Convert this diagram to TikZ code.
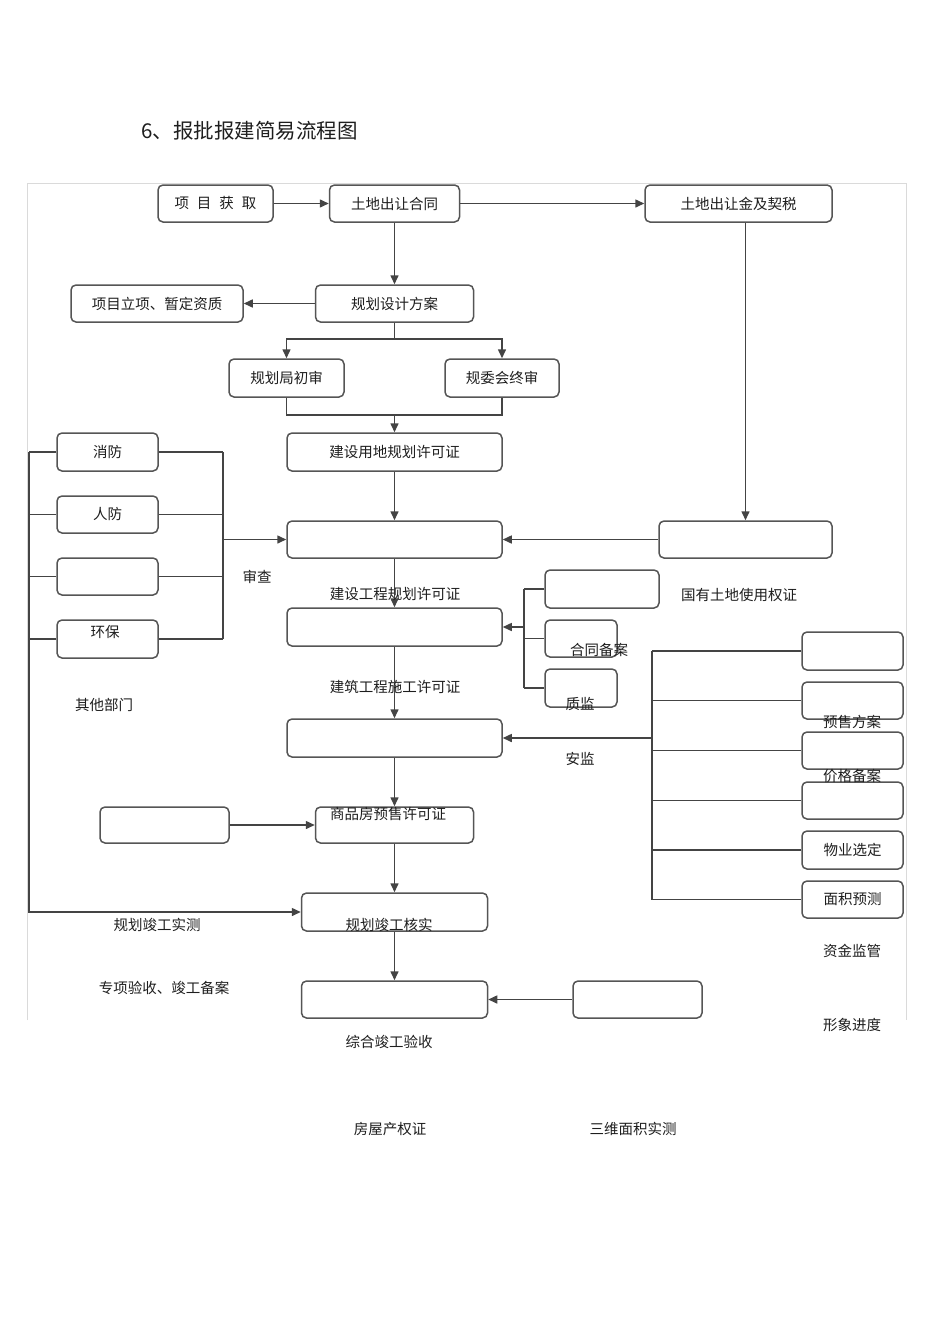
\documentclass[tikz,border=0pt]{standalone}
\usepackage{fontspec}
\setmainfont{Noto Sans CJK SC}
\usetikzlibrary{arrows.meta}
\definecolor{linegray}{HTML}{444444}
\definecolor{boxgray}{HTML}{555555}
\definecolor{framegray}{HTML}{DADADA}
\definecolor{textblack}{HTML}{1E1E1E}
\newcommand{\bodyfont}{\fontsize{14.5}{17}\selectfont}

\begin{document}
\begin{tikzpicture}[x=1pt,y=-1pt,
	box/.style={draw=boxgray, line width=1.5pt, rounded corners=5pt, fill=white,
		inner sep=0pt, font=\bodyfont, text=textblack},
	lbl/.style={font=\bodyfont, text=textblack, inner sep=0pt},
	wire/.style={draw=linegray, line width=1.5pt},
	arr/.style={wire, -{Triangle[length=9pt,width=8pt]}}]
	% Fixed white page, same size as the scanned sheet.
	\path[use as bounding box] (0,0) rectangle (950,1344);
	\fill[white] (0,0) rectangle (950,1344);

	% Page title and the light frame round the chart.
	\node[anchor=west, font=\fontsize{20.5}{24}\selectfont, text=textblack, inner sep=0pt] (title) at (141,131)
		{6、报批报建简易流程图};
	\draw[framegray, line width=0.8pt] (27,1020) -- (27,183) -- (906,183) -- (906,1020);

	% Top row and planning steps.
	\node[box, minimum width=115pt, minimum height=37pt] (xmhq) at (215.5,203.5)
		{项\hspace{8pt}目\hspace{8pt}获\hspace{8pt}取};
	\node[box, minimum width=130pt, minimum height=37pt] (tdht) at (394.5,203.5) {土地出让合同};
	\node[box, minimum width=187pt, minimum height=37pt] (tdjs) at (738.5,203.5) {土地出让金及契税};
	\node[box, minimum width=158pt, minimum height=37pt] (ghfa) at (394.5,303.5) {规划设计方案};
	\node[box, minimum width=172pt, minimum height=37pt] (xmlx) at (157,303.5) {项目立项、暂定资质};
	\node[box, minimum width=115pt, minimum height=38pt] (ghcs) at (286.5,378) {规划局初审};
	\node[box, minimum width=114pt, minimum height=38pt] (gwzs) at (502,378) {规委会终审};

	% Main column of permits (most labels sit off their boxes).
	\node[box, minimum width=215pt, minimum height=38pt] (jsyd) at (394.5,452) {建设用地规划许可证};
	\node[box, minimum width=215pt, minimum height=37pt] (gcgh) at (394.5,539.5) {};
	\node[box, minimum width=215pt, minimum height=38pt] (jzsg) at (394.5,627) {};
	\node[box, minimum width=215pt, minimum height=38pt] (ysxk) at (394.5,738) {};
	\node[box, minimum width=158pt, minimum height=36pt] (spf) at (394.5,825) {};
	\node[box, minimum width=129pt, minimum height=36pt] (ghsc) at (164.5,825) {};
	\node[box, minimum width=186pt, minimum height=38pt] (ghhs) at (394.5,912) {};
	\node[box, minimum width=186pt, minimum height=37pt] (zhys) at (394.5,999.5) {};
	\node[box, minimum width=129pt, minimum height=37pt] (swmj) at (637.5,999.5) {};
	\node[box, minimum width=173pt, minimum height=37pt] (gytd) at (745.5,539.5) {};

	% Review departments on the left.
	\node[box, minimum width=101pt, minimum height=38pt] (xf) at (107.5,452) {消防};
	\node[box, minimum width=101pt, minimum height=37pt] (rf) at (107.5,514.5) {人防};
	\node[box, minimum width=101pt, minimum height=37pt] (qt) at (107.5,576.5) {};
	\node[box, minimum width=101pt, minimum height=38pt] (hb) at (107.5,639) {};

	% Filings before the construction permit.
	\node[box, minimum width=114pt, minimum height=38pt] (htba) at (602,589) {};
	\node[box, minimum width=72pt, minimum height=37pt] (zj) at (581,638.5) {};
	\node[box, minimum width=72pt, minimum height=38pt] (aj) at (581,688) {};

	% Pre-sale conditions on the right.
	\node[box, minimum width=101pt, minimum height=38pt] (ysfa) at (852.5,651) {};
	\node[box, minimum width=101pt, minimum height=37pt] (jgba) at (852.5,700.5) {};
	\node[box, minimum width=101pt, minimum height=37pt] (wyxd) at (852.5,750.5) {};
	\node[box, minimum width=101pt, minimum height=37pt] (mjyc) at (852.5,800.5) {};
	\node[box, minimum width=101pt, minimum height=38pt] (zjjg) at (852.5,850) {物业选定};
	\node[box, minimum width=101pt, minimum height=37pt] (xxjd) at (852.5,899.5) {面积预测};

	% Bus lines.
	\coordinate (busL) at (29,0);
	\coordinate (busR) at (223,0);
	\coordinate (busM) at (524,0);
	\coordinate (busS) at (652,0);
	\coordinate (fork1) at (394.5,339);
	\coordinate (join1) at (394.5,415);

	% Connectors, top part.
	\draw[arr] (xmhq) -- (tdht);
	\draw[arr] (tdht) -- (tdjs);
	\draw[arr] (tdht) -- (ghfa);
	\draw[arr] (ghfa) -- (xmlx);
	\draw[wire] (ghfa.south) -- (fork1);
	\draw[arr] (fork1) -| (ghcs.north);
	\draw[arr] (fork1) -| (gwzs.north);
	\draw[wire] (ghcs.south) |- (join1) -| (gwzs.south);
	\draw[arr] (join1) -- (jsyd.north);
	\draw[arr] (jsyd) -- (gcgh);
	\draw[arr] (gytd.north |- tdjs.south) -- (gytd.north);
	\draw[arr] (gytd) -- (gcgh);

	% Left departments.
	\foreach \dept in {xf,rf,qt,hb} {
		\draw[wire] (\dept.west) -- (\dept.west -| busL);
		\draw[wire] (\dept.east) -- (\dept.east -| busR);
	}
	\draw[wire] (busR |- xf.east) -- (busR |- hb.east);
	\draw[arr] (busR |- gcgh.west) -- (gcgh.west);
	\draw[arr] (busL |- xf.west) |- (ghhs.west);

	% Filings group.
	\foreach \fil in {htba,zj,aj} {
		\draw[wire] (\fil.west) -- (\fil.west -| busM);
	}
	\draw[wire] (busM |- htba.west) -- (busM |- aj.west);
	\draw[arr] (busM |- jzsg.east) -- (jzsg.east);
	\draw[arr] (gcgh) -- (jzsg);

	% Pre-sale group.
	\foreach \cond in {ysfa,jgba,wyxd,mjyc,zjjg,xxjd} {
		\draw[wire] (\cond.west) -- (\cond.west -| busS);
	}
	\draw[wire] (busS |- ysfa.west) -- (busS |- xxjd.west);
	\draw[arr] (busS |- ysxk.east) -- (ysxk.east);
	\draw[arr] (jzsg) -- (ysxk);

	% Lower part.
	\draw[arr] (ysxk) -- (spf);
	\draw[arr] (ghsc) -- (spf);
	\draw[arr] (spf) -- (ghhs);
	\draw[arr] (ghhs) -- (zhys);
	\draw[arr] (swmj) -- (zhys);

	% Labels as printed, offset from their boxes.
	\node[lbl] (hbtxt) at (105,632) {环保};
	\node[lbl] (scha) at (257,577) {审查};
	\node[lbl] (gcghtxt) at (395,594) {建设工程规划许可证};
	\node[lbl] (jzsgtxt) at (395,687) {建筑工程施工许可证};
	\node[lbl] (qtbm) at (104,705) {其他部门};
	\node[lbl] (gytdtxt) at (739,595) {国有土地使用权证};
	\node[lbl] (htbatxt) at (599,650) {合同备案};
	\node[lbl] (zjtxt) at (580,704) {质监};
	\node[lbl] (ajtxt) at (580,759) {安监};
	\node[lbl] (ysfatxt) at (852,722) {预售方案};
	\node[lbl] (jgbatxt) at (852,776) {价格备案};
	\node[lbl] (zjjgtxt) at (852,951) {资金监管};
	\node[lbl] (xxjdtxt) at (852,1025) {形象进度};
	\node[lbl] (spftxt) at (388,814) {商品房预售许可证};
	\node[lbl] (ghsctxt) at (157,925) {规划竣工实测};
	\node[lbl] (ghhstxt) at (389,925) {规划竣工核实};
	\node[lbl] (zxystxt) at (164,988) {专项验收、竣工备案};
	\node[lbl] (zhystxt) at (389,1042) {综合竣工验收};
	\node[lbl] (fwcqtxt) at (390,1129) {房屋产权证};
	\node[lbl] (swmjtxt) at (633,1129) {三维面积实测};
\end{tikzpicture}
\end{document}
